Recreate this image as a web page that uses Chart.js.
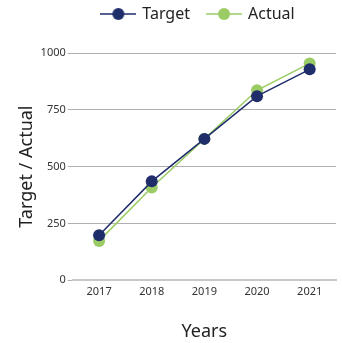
<!DOCTYPE html>
<html>
<head>
<meta charset="utf-8">
<script src="https://cdn.jsdelivr.net/npm/chart.js@4/dist/chart.umd.min.js"></script>
<style>
  html, body { margin: 0; padding: 0; background: #fff; }
  #wrap { width: 342px; height: 343px; }
</style>
</head>
<body>
<div id="wrap"><canvas id="c"></canvas></div>
<script>
const years = ['2017', '2018', '2019', '2020', '2021'];
const target = [198, 435, 622, 810, 928];
const actual = [173, 408, 622, 836, 954];

const NAVY = '#1f2d6b';
const GREEN = '#9bcb64';
const FONT = 'Noto Sans';

/* legend marker: short line with a dot in the middle */
function legendMark(color) {
  const cv = document.createElement('canvas');
  cv.width = 36; cv.height = 14;
  const g = cv.getContext('2d');
  g.strokeStyle = color; g.lineWidth = 1.5;
  g.beginPath(); g.moveTo(0, 7); g.lineTo(36, 7); g.stroke();
  g.fillStyle = color;
  g.beginPath(); g.arc(18, 7, 6, 0, Math.PI * 2); g.fill();
  return cv;
}

const ds = (label, data, color) => ({
  label, data,
  borderColor: color, backgroundColor: color,
  borderWidth: 1.5, pointRadius: 6, pointHoverRadius: 6,
  pointBorderWidth: 0, tension: 0
});

// legend keeps its box (for the gap above the plot) but is drawn higher and a bit right
const legendTweak = {
  id: 'legendTweak',
  afterUpdate(chart) {
    const lg = chart.legend;
    lg.left += 20; lg.right += 20;
    lg.top -= 21; lg.bottom -= 21;
  }
};

new Chart(document.getElementById('c'), {
  type: 'line',
  data: { labels: years, datasets: [ds('Target', target, NAVY), ds('Actual', actual, GREEN)] },
  plugins: [legendTweak],
  options: {
    responsive: true,
    maintainAspectRatio: false,
    animation: false,
    layout: { padding: { left: 12, right: -3, top: 9, bottom: 0 } },
    plugins: {
      legend: {
        position: 'top',
        labels: {
          usePointStyle: true,
          pointStyleWidth: 32,
          color: '#222',
          font: { family: FONT, size: 16 },
          padding: 18,
          generateLabels: chart => chart.data.datasets.map((d, i) => ({
            text: d.label,
            pointStyle: legendMark(d.borderColor),
            fillStyle: d.borderColor,
            strokeStyle: d.borderColor,
            lineWidth: 0,
            fontColor: '#222',
            datasetIndex: i
          }))
        }
      },
      tooltip: { enabled: false }
    },
    scales: {
      x: {
        offset: true,
        grid: { display: false, drawTicks: false },
        border: { display: true, color: '#c8c8c8', width: 2 },
        ticks: { color: '#333', font: { family: FONT, size: 11 }, padding: 5 },
        title: { display: true, text: 'Years', color: '#222', font: { family: FONT, size: 18 }, padding: { top: 18, bottom: 0 } }
      },
      y: {
        min: 0, max: 1000,
        grid: { color: '#b0b0b0', lineWidth: 1, tickLength: 5 },
        border: { display: false },
        ticks: {
          stepSize: 250,
          color: '#333', font: { family: FONT, size: 11 }, padding: 2,
          callback: v => String(v)
        },
        title: { display: true, text: 'Target / Actual', color: '#222', font: { family: FONT, size: 18 }, padding: { bottom: 1 } }
      }
    }
  }
});
</script>
</body>
</html>
